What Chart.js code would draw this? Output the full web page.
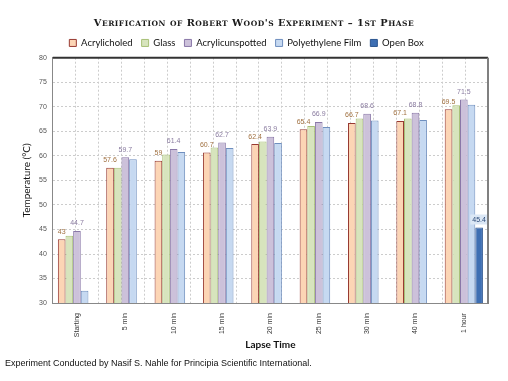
<!DOCTYPE html>
<html>
<head>
<meta charset="utf-8">
<script src="https://cdn.jsdelivr.net/npm/chart.js@4.4.0/dist/chart.umd.min.js"></script>
<style>
  html, body { margin: 0; padding: 0; background: #fff; }
  #wrap { width: 508px; height: 381px; position: relative; }
</style>
</head>
<body>
<div id="wrap"><canvas id="myChart"></canvas></div>
<script>
// DATA
const lapseTimes = ["Starting", "5 min", "10 min", "15 min", "20 min", "25 min", "30 min", "40 min", "1 hour"];
const acrylicHoled = [43, 57.6, 59, 60.7, 62.4, 65.4, 66.7, 67.1, 69.5];
const glass = [43.7, 57.6, 60.3, 61.7, 62.9, 66.1, 67.6, 67.6, 70.3];
const acrylicUnspotted = [44.7, 59.7, 61.4, 62.7, 63.9, 66.9, 68.6, 68.8, 71.5];
const polyFilm = [32.5, 59.3, 60.8, 61.6, 62.6, 65.9, 67.2, 67.3, 70.4];
const openBox = [null, null, null, null, null, null, null, null, 45.4];
const yTicks = [30, 80, 5]; // min, max, step

const titleText = "Verification of Robert Wood's Experiment \u2013 1st Phase";
const gridGrey = '#cccccc';

// value labels above some of the bars
const valueLabels = {
  id: 'valueLabels',
  afterDatasetsDraw(chart) {
    const ctx = chart.ctx;
    chart.data.datasets.forEach((ds, i) => {
      if (!ds.labelColor) return;
      const meta = chart.getDatasetMeta(i);
      meta.data.forEach((bar, j) => {
        const v = ds.data[j];
        if (v == null) return;
        ctx.save();
        ctx.font = '7px "Liberation Sans"';
        ctx.textAlign = 'center';
        ctx.textBaseline = 'bottom';
        const txt = String(v);
        if (ds.labelBox) {
          const w = ctx.measureText(txt).width + 4;
          ctx.fillStyle = ds.labelBox;
          ctx.fillRect(bar.x - w / 2, bar.y - 13, w, 10);
        }
        ctx.fillStyle = ds.labelColor;
        ctx.fillText(txt, bar.x, bar.y - 4);
        ctx.restore();
      });
    });
  }
};

// dark frame on top and right of plot + small caps title
const plotFrame = {
  id: 'plotFrame',
  afterDraw(chart) {
    const a = chart.chartArea;
    const ctx = chart.ctx;
    ctx.save();
    ctx.lineWidth = 2;
    ctx.strokeStyle = '#333';
    ctx.beginPath();
    ctx.moveTo(a.left, a.top);
    ctx.lineTo(a.right, a.top);
    ctx.stroke();
    ctx.strokeStyle = '#808080';
    ctx.beginPath();
    ctx.moveTo(a.right, a.top);
    ctx.lineTo(a.right, a.bottom + 1);
    ctx.stroke();

    // title in small caps
    const big = 'bold 9.8px "DejaVu Serif"';
    const small = 'bold 7.5px "DejaVu Serif"';
    const parts = [];
    let total = 0;
    for (const ch of titleText) {
      const isLower = ch !== ch.toUpperCase();
      const f = isLower ? small : big;
      ctx.font = f;
      const c = isLower ? ch.toUpperCase() : ch;
      const w = ctx.measureText(c).width + 0.5;
      parts.push([c, f, w]);
      total += w;
    }
    const tb = chart.titleBlock;
    const y = tb ? tb.top + tb.height / 2 + 4 : 26;
    let x = chart.width / 2 - total / 2;
    ctx.fillStyle = '#1a1a1a';
    ctx.textBaseline = 'alphabetic';
    ctx.textAlign = 'left';
    for (const [c, f, w] of parts) {
      ctx.font = f;
      ctx.fillText(c, x, y);
      x += w;
    }
    ctx.restore();
  }
};

const ctx = document.getElementById('myChart').getContext('2d');
new Chart(ctx, {
  type: 'bar',
  data: {
    labels: lapseTimes,
    datasets: [
      { label: 'Acrylicholed', data: acrylicHoled, backgroundColor: '#fcd5b5', borderColor: '#983a32', borderWidth: 1, labelColor: '#a07040' },
      { label: 'Glass', data: glass, backgroundColor: '#d7e4bd', borderColor: '#a8c078', borderWidth: 1 },
      { label: 'Acrylicunspotted', data: acrylicUnspotted, backgroundColor: '#ccc1da', borderColor: '#8a78a8', borderWidth: 1, labelColor: '#8a7ca0' },
      { label: 'Polyethylene Film', data: polyFilm, backgroundColor: '#c6d9f1', borderColor: '#6f8fbf', borderWidth: 1 },
      { label: 'Open Box', data: openBox, backgroundColor: '#3e6fb3', borderColor: '#2c5590', borderWidth: 1, labelColor: '#2c4a78', labelBox: '#dbe7f5' }
    ]
  },
  options: {
    responsive: true,
    maintainAspectRatio: false,
    animation: false,
    datasets: { bar: { categoryPercentage: 0.79, barPercentage: 1.0 } },
    layout: { padding: { left: 5, right: 20, top: 15, bottom: 6 } },
    plugins: {
      title: {
        display: true,
        text: titleText,
        color: 'rgba(0,0,0,0)',
        font: { family: '"DejaVu Serif"', size: 11, weight: 'bold' },
        padding: { top: 0, bottom: 1 }
      },
      legend: {
        position: 'top',
        labels: {
          boxWidth: 7, boxHeight: 7,
          color: '#111',
          font: { family: 'Lato', size: 9.5 },
          padding: 9
        }
      },
      subtitle: {
        display: true,
        position: 'bottom',
        align: 'start',
        text: 'Experiment Conducted by Nasif S. Nahle for Principia Scientific International.',
        color: '#111',
        font: { family: '"Liberation Sans"', size: 9 },
        padding: { top: 7, bottom: 6 }
      },
      tooltip: { enabled: false }
    },
    scales: {
      x: {
        grid: { display: false },
        border: { color: '#888' },
        ticks: {
          color: '#333',
          font: { family: '"Liberation Sans"', size: 7 },
          maxRotation: 90, minRotation: 90, padding: 2
        },
        title: {
          display: true, text: 'Lapse Time', color: '#111',
          font: { family: 'Lato', size: 10, weight: 'bold' },
          padding: { top: 0, bottom: 0 }
        }
      },
      xgrid: {
        type: 'linear',
        position: 'bottom',
        min: -0.5, max: lapseTimes.length - 0.5,
        ticks: { display: false, stepSize: 0.5 },
        grid: { color: gridGrey, lineWidth: 1, drawTicks: false, tickLength: 0 },
        border: { display: true, color: 'rgba(0,0,0,0)', dash: [2, 2] }
      },
      y: {
        min: yTicks[0], max: yTicks[1],
        ticks: {
          stepSize: yTicks[2],
          color: '#555',
          font: { family: '"Liberation Sans"', size: 7 },
          padding: 6
        },
        grid: { color: gridGrey, drawTicks: false },
        border: { color: '#888', dash: [2, 2] },
        title: {
          display: true, text: 'Temperature (\u00b0C)', color: '#111',
          font: { family: 'Lato', size: 10 },
          padding: { top: 16, bottom: 0 }
        }
      }
    }
  },
  plugins: [valueLabels, plotFrame]
});
</script>
</body>
</html>
